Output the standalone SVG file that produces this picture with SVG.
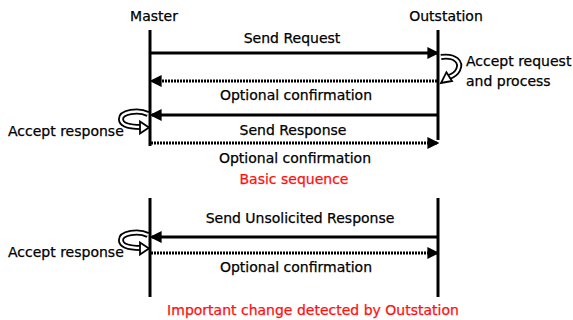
<svg xmlns="http://www.w3.org/2000/svg" width="573" height="320" viewBox="0 0 573 320">
  <defs>
    <marker id="head" markerWidth="4" markerHeight="4" refX="3.2" refY="2" orient="auto" markerUnits="strokeWidth">
      <path d="M0,0 L4,2 L0,4 Z" fill="#000"/>
    </marker>
    <style>
      text { font-family: "DejaVu Sans", Verdana, sans-serif; font-size: 14px; fill: #000; stroke: #000; stroke-width: 0.25; }
      .c { text-anchor: middle; }
      .red { fill: #ff1010; stroke: #ff1010; }
      .life { stroke: #000; stroke-width: 3; fill: none; }
      .msg { stroke: #000; stroke-width: 3; fill: none; marker-end: url(#head); }
      .opt { stroke: #000; stroke-width: 3; stroke-dasharray: 2 1; fill: none; marker-end: url(#head); }
      .curl-o { stroke: #000; stroke-width: 6; fill: none; stroke-linecap: butt; }
      .curl-i { stroke: #fff; stroke-width: 2.4; fill: none; stroke-linecap: butt; }
      .curl-h { fill: #fff; stroke: #000; stroke-width: 1.8; stroke-linejoin: miter; }
    </style>
  </defs>

  <rect width="573" height="320" fill="#fff"/>

  <!-- participants -->
  <g id="master">
    <text class="c" x="154" y="21">Master</text>
    <line class="life" x1="150" y1="30" x2="150" y2="146"/>
    <line class="life" x1="150" y1="198" x2="150" y2="297"/>
  </g>
  <g id="outstation">
    <text class="c" x="446" y="21">Outstation</text>
    <line class="life" x1="438" y1="30" x2="438" y2="140"/>
    <line class="life" x1="438" y1="198" x2="438" y2="297"/>
  </g>

  <!-- messages -->
  <g id="connectors">
    <line class="msg" x1="150" y1="53" x2="437" y2="53"/>
    <line class="opt" x1="437" y1="81" x2="152" y2="81"/>
    <line class="msg" x1="437" y1="115" x2="152" y2="115"/>
    <line class="opt" x1="151" y1="143" x2="437" y2="143"/>
    <line class="msg" x1="438" y1="237" x2="152" y2="237"/>
    <line class="opt" x1="151" y1="253" x2="437" y2="253"/>
  </g>

  <!-- message labels -->
  <g id="labels">
    <text class="c" x="292" y="43">Send Request</text>
    <text class="c" x="296" y="100">Optional confirmation</text>
    <text class="c" x="293" y="135">Send Response</text>
    <text class="c" x="295" y="163">Optional confirmation</text>
    <text class="c red" x="294" y="184">Basic sequence</text>
    <text class="c" x="300" y="223">Send Unsolicited Response</text>
    <text class="c" x="296" y="272">Optional confirmation</text>
    <text class="c red" x="313" y="315">Important change detected by Outstation</text>
  </g>

  <!-- outstation processing -->
  <g id="process">
    <path class="curl-o" d="M441,57 C455,55 462,62 458,70 C456,74 452,76 449,77"/>
    <path class="curl-i" d="M441,57 C455,55 462,62 458,70 C456,74 452,76 449,77"/>
    <path class="curl-h" d="M446.4,72.2 L452,81 L441,83 Z"/>
    <text x="466" y="66">Accept request</text>
    <text x="466" y="86">and process</text>
  </g>

  <!-- master accepts response -->
  <g id="accept1">
    <path class="curl-o" d="M148,114 C138,109 121,112 121,119 C121,126 133,127 141,127"/>
    <path class="curl-i" d="M148,114 C138,109 121,112 121,119 C121,126 133,127 141,127"/>
    <path class="curl-h" d="M140,121.5 L149,127.5 L140,133.5 Z"/>
    <text x="8" y="136">Accept response</text>
  </g>
  <g id="accept2">
    <path class="curl-o" d="M148,235 C138,230 121,233 121,240 C121,247 133,248 141,248"/>
    <path class="curl-i" d="M148,235 C138,230 121,233 121,240 C121,247 133,248 141,248"/>
    <path class="curl-h" d="M140,242.5 L149,248.5 L140,254.5 Z"/>
    <text x="8" y="257">Accept response</text>
  </g>
</svg>
